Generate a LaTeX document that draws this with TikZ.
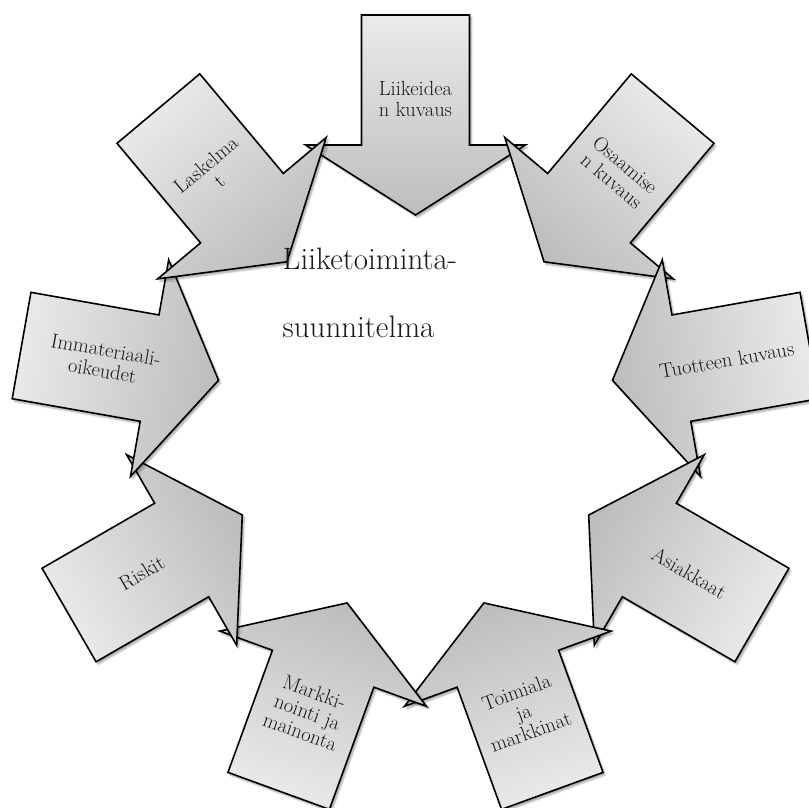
\documentclass[tikz,border=0pt]{standalone}
\usetikzlibrary{shadows.blur}
\tikzset{
  nuoli/.style={draw=black,line width=1.6pt,line join=miter,top color=black!8,bottom color=black!26,
    blur shadow={shadow xshift=2pt,shadow yshift=-2.5pt,shadow blur steps=6,shadow opacity=35}},
  teksti/.style={align=center,text=black!90,font=\fontsize{20.5}{21}\selectfont,inner sep=0pt},
  otsikko/.style={align=left,text=black!90,font=\fontsize{31}{68}\selectfont,inner sep=0pt},
}

\begin{document}
\begin{tikzpicture}[x=1pt,y=1pt]
\useasboundingbox (-415.5,-392) rectangle (393.5,415);
\foreach \a/\r/\t [count=\i] in {90/0/{Liikeidea\\n kuvaus}, 50/-40/{Osaamise\\n kuvaus},
    10/10/{Tuotteen kuvaus}, -30/-30/{Asiakkaat}, -70/20/{Toimiala\\ja\\markkinat},
    -110/-20/{Markki-\\nointi ja\\mainonta}, -150/30/{Riskit}, 170/-10/{Immateriaali-\\oikeudet},
    130/40/{Laskelma\\t}}{
  \begin{scope}[rotate=\a-90]
    \path[nuoli,shading angle=\a-90] (0,200) -- (110,270) -- (54,270) -- (54,400)
      -- (-54,400) -- (-54,270) -- (-110,270) -- cycle;
  \end{scope}
  \node[teksti,rotate=\r] (n\i) at (\a:316) {\t};
}
\node[otsikko,anchor=west] (keskus) at (-133,122) {Liiketoiminta-\\suunnitelma};
\end{tikzpicture}
\end{document}
